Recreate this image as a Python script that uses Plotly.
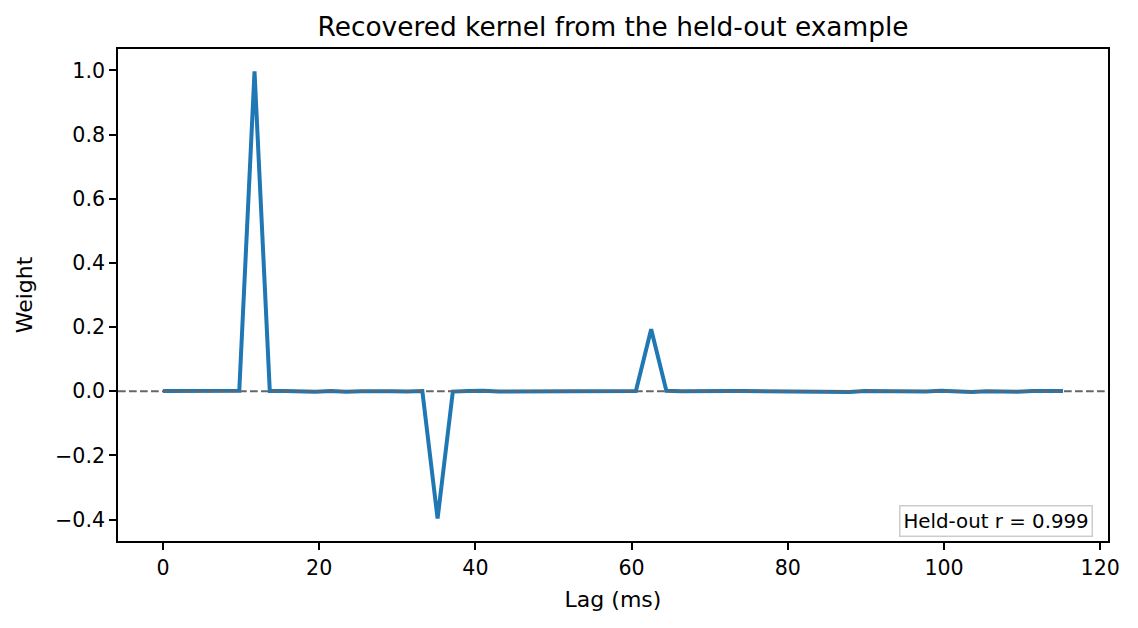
"""
Recovered kernel from the held-out example
"""

import plotly.graph_objects as go

# lag axis (ms), one sample every 1000/512 ms
lag_ms = [
    0.0, 1.953, 3.906, 5.859, 7.813, 9.766, 11.719, 13.672, 15.625, 17.578,
    19.531, 21.484, 23.438, 25.391, 27.344, 29.297, 31.25, 33.203, 35.156, 37.109,
    39.063, 41.016, 42.969, 44.922, 46.875, 48.828, 50.781, 52.734, 54.688, 56.641,
    58.594, 60.547, 62.5, 64.453, 66.406, 68.359, 70.313, 72.266, 74.219, 76.172,
    78.125, 80.078, 82.031, 83.984, 85.938, 87.891, 89.844, 91.797, 93.75, 95.703,
    97.656, 99.609, 101.563, 103.516, 105.469, 107.422, 109.375, 111.328, 113.281, 115.234,
]

# recovered kernel weights
weights = [
    0.0005, 0.0002, -0.0003, 0.0008, 0.0004, 0.0012, 0.997, 0.0010, 0.0006, -0.0004,
    -0.0012, 0.0009, -0.0015, 0.0003, 0.0011, 0.0002, -0.0006, 0.0008, -0.397, -0.0011,
    0.0004, 0.0014, -0.0008, -0.0005, 0.0003, 0.0010, -0.0002, -0.0013, -0.0009, 0.0001,
    0.0006, 0.0007, 0.193, 0.0012, -0.0004, -0.0010, -0.0003, 0.0005, 0.0009, 0.0004,
    0.0011, -0.0002, 0.0008, 0.0003, -0.0014, -0.0022, 0.0006, 0.0002, -0.0007, 0.0010,
    -0.0005, 0.0013, -0.0009, -0.0024, -0.0003, -0.0011, -0.0018, 0.0006, 0.0002, 0.0004,
]

x_ticks = [0, 20, 40, 60, 80, 100, 120]
y_ticks = [-0.4, -0.2, 0.0, 0.2, 0.4, 0.6, 0.8, 1.0]
heldout_r = 0.999

BLUE = "#1f77b4"
FONT = "DejaVu Sans"

# the page body keeps its default 8px margin, so the figure is 8px smaller
W, H = 1130, 620

fig = go.Figure()

fig.add_trace(go.Scatter(
    x=lag_ms, y=weights,
    mode="lines",
    line=dict(color=BLUE, width=4),
    showlegend=False,
))

# zero reference line, drawn over the kernel like axhline
fig.add_hline(
    y=0, layer="above",
    line=dict(color="#666666", width=2, dash="7.7px,3.3px"),
)

fig.add_annotation(
    x=1, y=0, xref="paper", yref="paper",
    xanchor="right", yanchor="bottom",
    xshift=-15, yshift=4,
    text=f"Held-out r = {heldout_r:.3f}",
    showarrow=False,
    font=dict(family=FONT, size=19.8, color="black"),
    bgcolor="white", bordercolor="#cccccc", borderwidth=1.5, borderpad=3,
)

axis_style = dict(
    showline=True, mirror=True, linecolor="black", linewidth=1.6,
    ticks="outside", ticklen=7, tickwidth=1.6, tickcolor="black",
    showgrid=False, zeroline=False,
    tickfont=dict(family=FONT, size=20.6, color="black"),
)

fig.update_xaxes(
    range=[-5.76, 120.99],
    tickvals=x_ticks,
    title=dict(text="Lag (ms)", font=dict(family=FONT, size=22, color="black"), standoff=13),
    **axis_style,
)
fig.update_yaxes(
    range=[-0.4668, 1.0668],
    tickvals=y_ticks, tickformat=".1f",
    title=dict(text="Weight", font=dict(family=FONT, size=22, color="black"), standoff=16),
    **axis_style,
)

fig.update_layout(
    width=W, height=H,
    title=dict(
        text="Recovered kernel from the held-out example",
        font=dict(family=FONT, size=26.4, color="black"),
        x=0.5, xref="paper", xanchor="center",
        y=1 - 19 / H, yref="container", yanchor="middle",
    ),
    paper_bgcolor="white", plot_bgcolor="white",
    font=dict(family=FONT, color="black"),
    margin=dict(l=110, r=30, t=41, b=87),
)

fig.write_html("out.html")
